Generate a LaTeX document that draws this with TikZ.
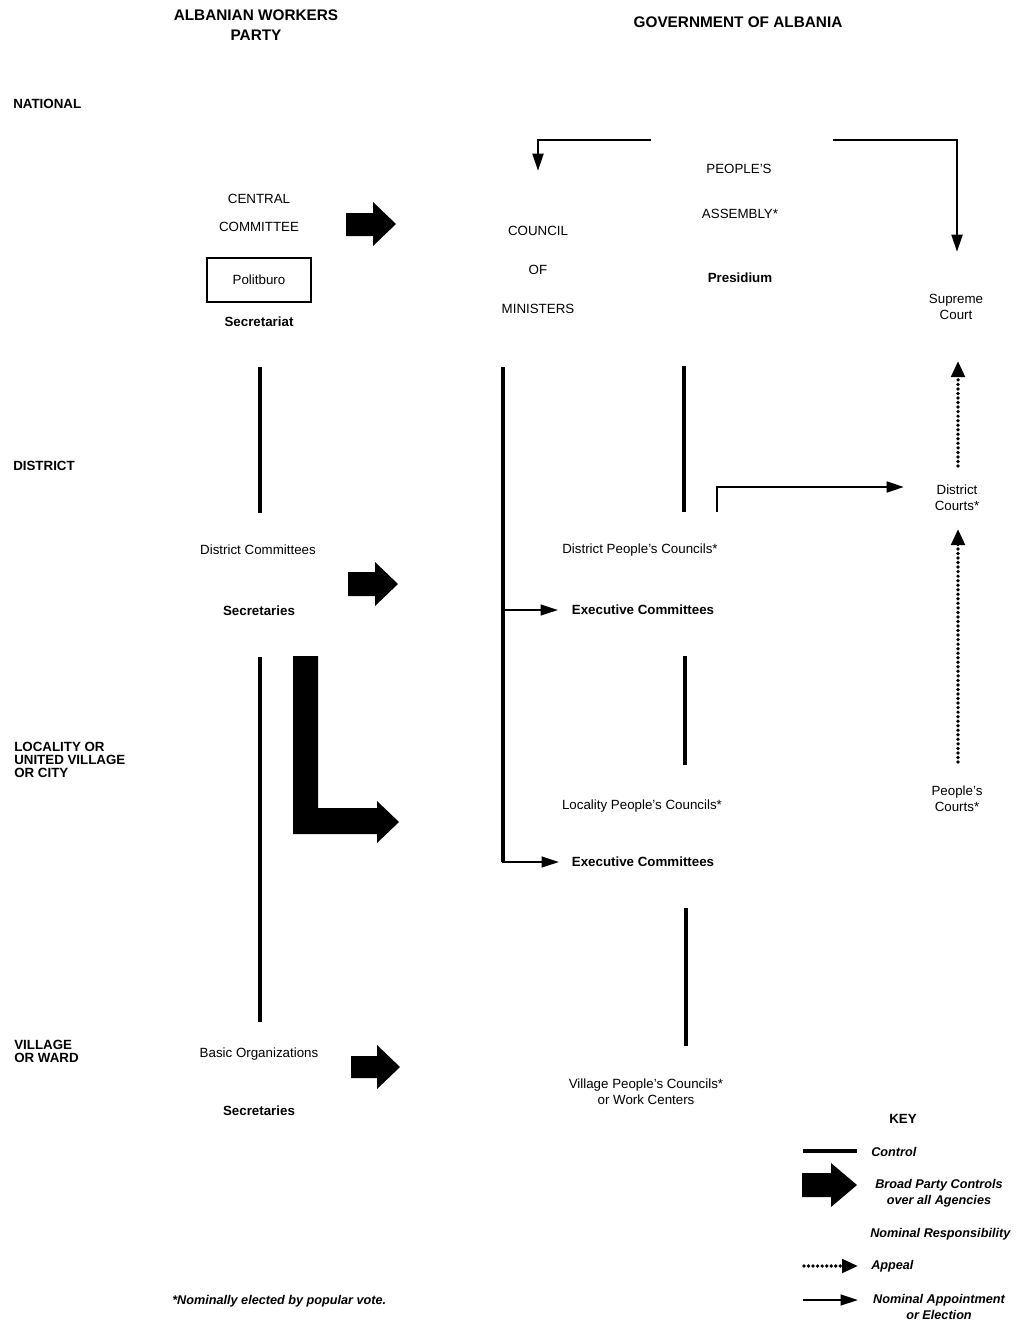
\documentclass[tikz,border=0pt]{standalone}
\usepackage{fontspec}
\setmainfont{Liberation Sans}
\usetikzlibrary{arrows.meta}
\begin{document}
\begin{tikzpicture}[x=0.75pt,y=-0.75pt,
 lbl/.style={font=\fontsize{10}{12}\selectfont, inner sep=1pt, align=center},
 blbl/.style={font=\bfseries\fontsize{10}{12}\selectfont, inner sep=1pt, align=center},
 headt/.style={font=\bfseries\fontsize{11.5}{15}\selectfont, inner sep=1pt, align=center},
 lvl/.style={font=\bfseries\fontsize{10}{9.75}\selectfont, inner sep=0pt, align=left, anchor=west},
 keyt/.style={font=\bfseries\itshape\fontsize{9.5}{12}\selectfont, inner sep=0pt, align=center},
 ctrl/.style={line width=2.3pt},
 appt/.style={line width=1.6pt, -{Triangle[length=13pt,width=8pt]}},
 appeal/.style={line width=2.8pt, dash pattern=on 0pt off 3.4pt, line cap=round, -{Triangle[length=12pt,width=10pt]}},
 broad/.style={fill=black}
]
\useasboundingbox[fill=white] (0,0) rectangle (1016,1327);

% headings
\node[headt] (awp) at (256,25) {ALBANIAN WORKERS\\PARTY};
\node[headt] (goa) at (738,22) {GOVERNMENT OF ALBANIA};

% levels
\node[lvl] (lnat) at (13,104) {NATIONAL};
\node[lvl] (ldis) at (13,466) {DISTRICT};
\node[lvl] (lloc) at (14,760) {LOCALITY OR\\UNITED VILLAGE\\OR CITY};
\node[lvl] (lvil) at (14,1051) {VILLAGE\\OR WARD};

% party column
\node[lbl] (central) at (259,199) {CENTRAL};
\node[lbl] (cc) at (259,227) {COMMITTEE};
\node[lbl, draw, line width=1.5pt, minimum width=78pt, minimum height=33pt] (polit) at (259,280) {Politburo};
\node[blbl] (secr) at (259,322) {Secretariat};
\node[lbl] (dcom) at (258,550) {District Committees};
\node[blbl] (dsec) at (259,611) {Secretaries};
\node[lbl] (basic) at (259,1054) {Basic Organizations};
\node[blbl] (bsec) at (259,1111) {Secretaries};

\coordinate (p1a) at (260,367); \coordinate (p1b) at (260,513);
\coordinate (p2a) at (260,657); \coordinate (p2b) at (260,1022);
\draw[ctrl] (p1a) -- (p1b);
\draw[ctrl] (p2a) -- (p2b);

% broad party control arrows
\fill[broad] (346,213) -- (373,213) -- (373,202) -- (396,224) -- (373,246) -- (373,236) -- (346,236) -- cycle;
\fill[broad] (348,572) -- (375,572) -- (375,562) -- (398,584) -- (375,606) -- (375,596) -- (348,596) -- cycle;
\fill[broad] (293,656) -- (318,656) -- (318,808) -- (377,808) -- (377,801) -- (399,822) -- (377,843) -- (377,834) -- (293,834) -- cycle;
\fill[broad] (351,1056) -- (377,1056) -- (377,1045) -- (400,1067) -- (377,1089) -- (377,1078) -- (351,1078) -- cycle;

% government column
\node[lbl] (peoples) at (739,169) {PEOPLE'S};
\node[lbl] (assembly) at (740,214) {ASSEMBLY*};
\node[blbl] (presid) at (740,278) {Presidium};
\node[lbl] (council) at (538,231) {COUNCIL};
\node[lbl] (of) at (538,270) {OF};
\node[lbl] (minist) at (538,309) {MINISTERS};
\node[lbl] (supreme) at (956,307) {Supreme\\Court};

\coordinate (g1) at (651,140); \coordinate (g1c) at (538,140); \coordinate (g1e) at (538,171);
\draw[appt, line width=2.2pt] (g1) -- (g1c) -- (g1e);
\coordinate (g2) at (833,140); \coordinate (g2c) at (957,140); \coordinate (g2e) at (957,252);
\draw[appt, line width=2.2pt] (g2) -- (g2c) -- (g2e);

\node[lbl] (dpc) at (640,550) {District People's Councils*};
\node[blbl] (dexec) at (643,610) {Executive Committees};
\node[lbl] (lpc) at (642,806) {Locality People's Councils*};
\node[blbl] (lexec) at (643,862) {Executive Committees};
\node[lbl] (vpc) at (646,1092) {Village People's Councils*\\or Work Centers};
\node[lbl] (dcourts) at (957,498) {District\\Courts*};
\node[lbl] (pcourts) at (957,799) {People's\\Courts*};

% council of ministers control line with branches
\coordinate (cm1) at (503,367); \coordinate (cmc) at (503,862);
\coordinate (cmb) at (503,610);
\coordinate (cme1) at (558,610); \coordinate (cme2) at (559,862);
\draw[ctrl] (cm1) -- (cmc);
\draw[appt] (cmb) -- (cme1);
\draw[appt] ([xshift=-0.75pt]cmc) -- (cme2);

% assembly to district councils
\coordinate (pa1) at (684,366); \coordinate (pa2) at (684,512);
\draw[ctrl] (pa1) -- (pa2);
\coordinate (dc1) at (685,656); \coordinate (dc2) at (685,765);
\draw[ctrl] (dc1) -- (dc2);
\coordinate (lc1) at (686,908); \coordinate (lc2) at (686,1046);
\draw[ctrl] (lc1) -- (lc2);

% district council to district courts
\coordinate (dct1) at (717,512); \coordinate (dct2) at (717,487); \coordinate (dct3) at (904,487);
\draw[appt, line width=2pt] (dct1) -- (dct2) -- (dct3);

% appeals
\coordinate (ap1) at (958,466); \coordinate (ap1e) at (958,361);
\draw[appeal] (ap1) -- (ap1e);
\coordinate (ap2) at (958,762); \coordinate (ap2e) at (958,529);
\draw[appeal] (ap2) -- (ap2e);

% key
\node[blbl] (key) at (903,1119) {KEY};
\coordinate (k1a) at (803,1151); \coordinate (k1b) at (857,1151);
\draw[ctrl] (k1a) -- (k1b);
\node[keyt, anchor=west] (kcontrol) at (871,1152) {Control};
\fill[broad] (802,1173) -- (831,1173) -- (831,1163) -- (857,1185) -- (831,1207) -- (831,1197) -- (802,1197) -- cycle;
\node[keyt] (kbroad) at (939,1193) {Broad Party Controls\\over all Agencies};
\node[keyt, anchor=west] (knom) at (870,1234) {Nominal Responsibility};
\coordinate (k3a) at (804,1266); \coordinate (k3b) at (858,1266);
\draw[appeal] (k3a) -- (k3b);
\node[keyt, anchor=west] (kappeal) at (871,1266) {Appeal};
\coordinate (k4a) at (803,1300); \coordinate (k4b) at (858,1300);
\draw[appt] (k4a) -- (k4b);
\node[keyt] (kappt) at (939,1307) {Nominal Appointment\\or Election};

\node[keyt, anchor=west] (foot) at (172,1301) {*Nominally elected by popular vote.};
\end{tikzpicture}
\end{document}
